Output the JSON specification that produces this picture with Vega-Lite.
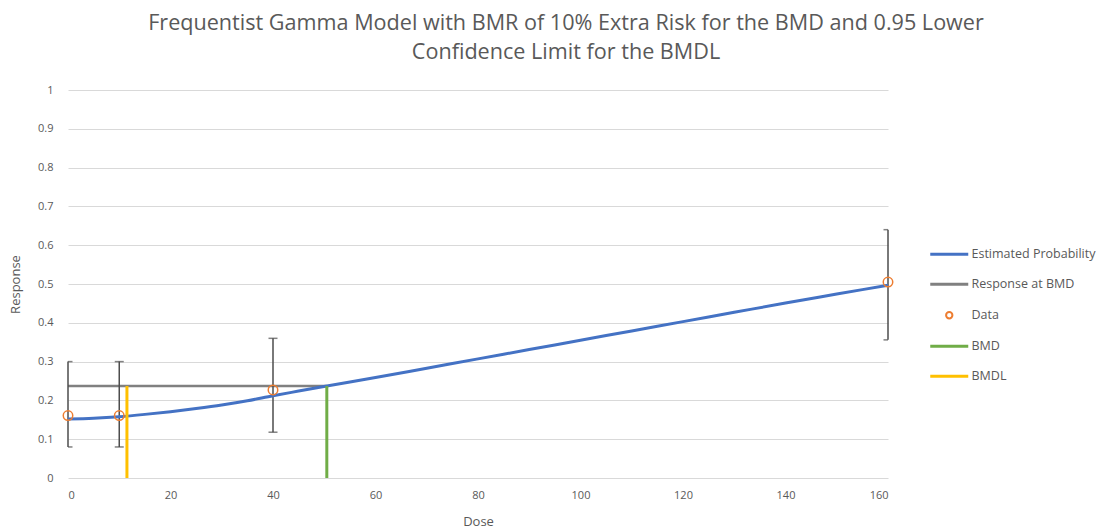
{
  "$schema": "https://vega.github.io/schema/vega-lite/v6.json",
  "width": 820,
  "height": 388,
  "autosize": {"type": "none"},
  "padding": {"left": 68, "top": 90, "right": 221, "bottom": 54},
  "background": "white",
  "config": {
    "view": {"stroke": null},
    "font": "Open Sans",
    "axis": {"labelColor": "#595959", "titleColor": "#595959", "titleFontWeight": "normal", "labelFont": "Open Sans", "titleFont": "Open Sans"}
  },
  "title": {
    "text": ["Frequentist Gamma Model with BMR of 10% Extra Risk for the BMD and 0.95 Lower", "Confidence Limit for the BMDL"],
    "fontSize": 21.6,
    "fontWeight": "normal",
    "font": "Open Sans",
    "color": "#595959",
    "anchor": "middle",
    "frame": "group",
    "dx": 88,
    "lineHeight": 29,
    "offset": 20
  },
  "datasets": {
    "curve": [
      {"dose": 0, "p": 0.152, "series": "Estimated Probability"},
      {"dose": 5, "p": 0.154, "series": "Estimated Probability"},
      {"dose": 10, "p": 0.158, "series": "Estimated Probability"},
      {"dose": 15, "p": 0.164, "series": "Estimated Probability"},
      {"dose": 20, "p": 0.171, "series": "Estimated Probability"},
      {"dose": 25, "p": 0.179, "series": "Estimated Probability"},
      {"dose": 30, "p": 0.188, "series": "Estimated Probability"},
      {"dose": 35, "p": 0.199, "series": "Estimated Probability"},
      {"dose": 40, "p": 0.212, "series": "Estimated Probability"},
      {"dose": 45, "p": 0.224, "series": "Estimated Probability"},
      {"dose": 50.5, "p": 0.237, "series": "Estimated Probability"},
      {"dose": 60, "p": 0.259, "series": "Estimated Probability"},
      {"dose": 70, "p": 0.283, "series": "Estimated Probability"},
      {"dose": 80, "p": 0.307, "series": "Estimated Probability"},
      {"dose": 90, "p": 0.331, "series": "Estimated Probability"},
      {"dose": 100, "p": 0.355, "series": "Estimated Probability"},
      {"dose": 110, "p": 0.379, "series": "Estimated Probability"},
      {"dose": 120, "p": 0.403, "series": "Estimated Probability"},
      {"dose": 130, "p": 0.427, "series": "Estimated Probability"},
      {"dose": 140, "p": 0.451, "series": "Estimated Probability"},
      {"dose": 150, "p": 0.474, "series": "Estimated Probability"},
      {"dose": 160, "p": 0.497, "series": "Estimated Probability"}
    ],
    "refs": [
      {"series": "Response at BMD", "x0": 0, "x1": 50.5, "y0": 0.237, "y1": 0.237},
      {"series": "BMD", "x0": 50.5, "x1": 50.5, "y0": 0, "y1": 0.237},
      {"series": "BMDL", "x0": 11.5, "x1": 11.5, "y0": 0, "y1": 0.237}
    ],
    "obs": [
      {"dose": 0, "resp": 0.161, "lo": 0.08, "hi": 0.3, "series": "Data"},
      {"dose": 10, "resp": 0.161, "lo": 0.08, "hi": 0.3, "series": "Data"},
      {"dose": 40, "resp": 0.227, "lo": 0.118, "hi": 0.36, "series": "Data"},
      {"dose": 160, "resp": 0.505, "lo": 0.356, "hi": 0.64, "series": "Data"}
    ]
  },
  "layer": [
    {
      "data": {"name": "refs"},
      "transform": [{"filter": "datum.series === 'Response at BMD'"}],
      "mark": {"type": "rule", "strokeWidth": 2.5},
      "encoding": {
        "x": {"field": "x0", "type": "quantitative", "scale": {"domain": [0, 160], "nice": false},
          "axis": {"values": [0, 20, 40, 60, 80, 100, 120, 140, 160], "grid": false, "domain": false, "ticks": false, "labelFontSize": 11, "labelPadding": 11, "title": "Dose", "titleFontSize": 13, "titlePadding": 15}},
        "x2": {"field": "x1"},
        "y": {"field": "y0", "type": "quantitative", "scale": {"domain": [0, 1], "nice": false},
          "axis": {"values": [0, 0.1, 0.2, 0.3, 0.4, 0.5, 0.6, 0.7, 0.8, 0.9, 1], "format": ".1~f", "labelOverlap": false, "grid": true, "gridColor": "#d9d9d9", "gridWidth": 1, "domain": false, "ticks": false, "labelFontSize": 11, "labelPadding": 15, "title": "Response", "titleFontSize": 13, "titlePadding": 15}},
        "y2": {"field": "y1"},
        "color": {"field": "series", "type": "nominal",
          "scale": {"domain": ["Estimated Probability", "Response at BMD", "Data", "BMD", "BMDL"], "range": ["#4472c4", "#808080", "#ed7d31", "#70ad47", "#ffc000"]},
          "legend": {
            "orient": "none", "legendX": 875, "legendY": 158, "title": null,
            "labelFontSize": 12.5, "labelColor": "#595959", "labelFont": "Open Sans", "labelOffset": 16, "labelLimit": 300,
            "symbolType": "stroke", "symbolSize": 1444, "symbolStrokeWidth": 3, "rowPadding": 17,
            "encode": {"symbols": {"update": {
              "shape": {"signal": "datum.label === 'Data' ? 'circle' : 'stroke'"},
              "size": {"signal": "datum.label === 'Data' ? 40 : 1444"},
              "fill": {"value": "transparent"},
              "strokeWidth": {"signal": "datum.label === 'Data' ? 2 : 3"}
            }}}
          }}
      }
    },
    {
      "data": {"name": "obs"},
      "mark": {"type": "rule", "strokeWidth": 1.5, "color": "#4d4d4d"},
      "encoding": {
        "x": {"field": "dose", "type": "quantitative", "axis": {"values": [0, 20, 40, 60, 80, 100, 120, 140, 160], "grid": false, "domain": false, "ticks": false, "labelFontSize": 11, "labelPadding": 11, "title": "Dose", "titleFontSize": 13, "titlePadding": 15}},
        "y": {"field": "lo", "type": "quantitative", "axis": {"values": [0, 0.1, 0.2, 0.3, 0.4, 0.5, 0.6, 0.7, 0.8, 0.9, 1], "format": ".1~f", "labelOverlap": false, "grid": true, "gridColor": "#d9d9d9", "gridWidth": 1, "domain": false, "ticks": false, "labelFontSize": 11, "labelPadding": 15, "title": "Response", "titleFontSize": 13, "titlePadding": 15}},
        "y2": {"field": "hi"}
      }
    },
    {
      "data": {"name": "obs"},
      "mark": {"type": "tick", "orient": "horizontal", "size": 9, "thickness": 1.5, "color": "#4d4d4d", "clip": true},
      "encoding": {
        "x": {"field": "dose", "type": "quantitative", "axis": {"values": [0, 20, 40, 60, 80, 100, 120, 140, 160], "grid": false, "domain": false, "ticks": false, "labelFontSize": 11, "labelPadding": 11, "title": "Dose", "titleFontSize": 13, "titlePadding": 15}},
        "y": {"field": "lo", "type": "quantitative", "axis": {"values": [0, 0.1, 0.2, 0.3, 0.4, 0.5, 0.6, 0.7, 0.8, 0.9, 1], "format": ".1~f", "labelOverlap": false, "grid": true, "gridColor": "#d9d9d9", "gridWidth": 1, "domain": false, "ticks": false, "labelFontSize": 11, "labelPadding": 15, "title": "Response", "titleFontSize": 13, "titlePadding": 15}}
      }
    },
    {
      "data": {"name": "obs"},
      "mark": {"type": "tick", "orient": "horizontal", "size": 9, "thickness": 1.5, "color": "#4d4d4d", "clip": true},
      "encoding": {
        "x": {"field": "dose", "type": "quantitative", "axis": {"values": [0, 20, 40, 60, 80, 100, 120, 140, 160], "grid": false, "domain": false, "ticks": false, "labelFontSize": 11, "labelPadding": 11, "title": "Dose", "titleFontSize": 13, "titlePadding": 15}},
        "y": {"field": "hi", "type": "quantitative", "axis": {"values": [0, 0.1, 0.2, 0.3, 0.4, 0.5, 0.6, 0.7, 0.8, 0.9, 1], "format": ".1~f", "labelOverlap": false, "grid": true, "gridColor": "#d9d9d9", "gridWidth": 1, "domain": false, "ticks": false, "labelFontSize": 11, "labelPadding": 15, "title": "Response", "titleFontSize": 13, "titlePadding": 15}}
      }
    },
    {
      "data": {"name": "curve"},
      "mark": {"type": "line", "strokeWidth": 3, "interpolate": "monotone"},
      "encoding": {
        "x": {"field": "dose", "type": "quantitative", "axis": {"values": [0, 20, 40, 60, 80, 100, 120, 140, 160], "grid": false, "domain": false, "ticks": false, "labelFontSize": 11, "labelPadding": 11, "title": "Dose", "titleFontSize": 13, "titlePadding": 15}},
        "y": {"field": "p", "type": "quantitative", "axis": {"values": [0, 0.1, 0.2, 0.3, 0.4, 0.5, 0.6, 0.7, 0.8, 0.9, 1], "format": ".1~f", "labelOverlap": false, "grid": true, "gridColor": "#d9d9d9", "gridWidth": 1, "domain": false, "ticks": false, "labelFontSize": 11, "labelPadding": 15, "title": "Response", "titleFontSize": 13, "titlePadding": 15}},
        "color": {"field": "series", "type": "nominal"}
      }
    },
    {
      "data": {"name": "refs"},
      "transform": [{"filter": "datum.series !== 'Response at BMD'"}],
      "mark": {"type": "rule", "strokeWidth": 3},
      "encoding": {
        "x": {"field": "x0", "type": "quantitative", "axis": {"values": [0, 20, 40, 60, 80, 100, 120, 140, 160], "grid": false, "domain": false, "ticks": false, "labelFontSize": 11, "labelPadding": 11, "title": "Dose", "titleFontSize": 13, "titlePadding": 15}},
        "x2": {"field": "x1"},
        "y": {"field": "y0", "type": "quantitative", "axis": {"values": [0, 0.1, 0.2, 0.3, 0.4, 0.5, 0.6, 0.7, 0.8, 0.9, 1], "format": ".1~f", "labelOverlap": false, "grid": true, "gridColor": "#d9d9d9", "gridWidth": 1, "domain": false, "ticks": false, "labelFontSize": 11, "labelPadding": 15, "title": "Response", "titleFontSize": 13, "titlePadding": 15}},
        "y2": {"field": "y1"},
        "color": {"field": "series", "type": "nominal"}
      }
    },
    {
      "data": {"name": "obs"},
      "mark": {"type": "point", "filled": false, "size": 90, "strokeWidth": 1.5, "opacity": 1},
      "encoding": {
        "x": {"field": "dose", "type": "quantitative", "axis": {"values": [0, 20, 40, 60, 80, 100, 120, 140, 160], "grid": false, "domain": false, "ticks": false, "labelFontSize": 11, "labelPadding": 11, "title": "Dose", "titleFontSize": 13, "titlePadding": 15}},
        "y": {"field": "resp", "type": "quantitative", "axis": {"values": [0, 0.1, 0.2, 0.3, 0.4, 0.5, 0.6, 0.7, 0.8, 0.9, 1], "format": ".1~f", "labelOverlap": false, "grid": true, "gridColor": "#d9d9d9", "gridWidth": 1, "domain": false, "ticks": false, "labelFontSize": 11, "labelPadding": 15, "title": "Response", "titleFontSize": 13, "titlePadding": 15}},
        "color": {"field": "series", "type": "nominal"}
      }
    }
  ]
}
